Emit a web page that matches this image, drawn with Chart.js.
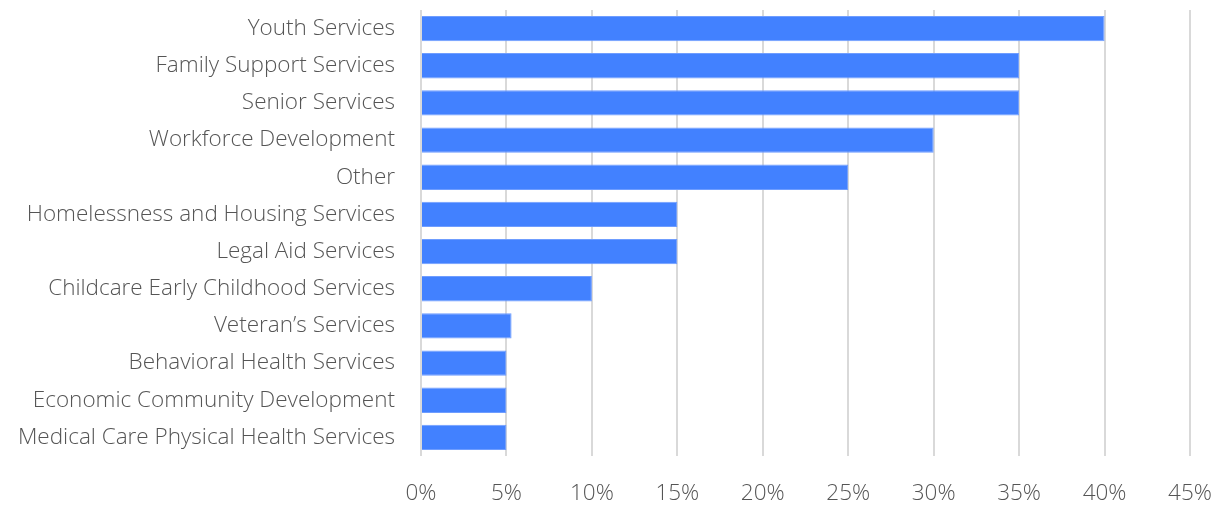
<!DOCTYPE html>
<html>
<head>
<meta charset="utf-8">
<script src="https://cdn.jsdelivr.net/npm/chart.js@4.4.1/dist/chart.umd.min.js"></script>
<style>
  html, body { margin: 0; padding: 0; background: #fff; }
  #wrap { width: 1220px; height: 506px; }
</style>
</head>
<body>
<div id="wrap"><canvas id="myChart" width="1220" height="506"></canvas></div>
<script>
const categories = [
    'Youth Services',
    'Family Support Services',
    'Senior Services',
    'Workforce Development',
    'Other',
    'Homelessness and Housing Services',
    'Legal Aid Services',
    'Childcare Early Childhood Services',
    'Veteran\u2019s Services',
    'Behavioral Health Services',
    'Economic Community Development',
    'Medical Care Physical Health Services'
];
const shares = [40, 35, 35, 30, 25, 15, 15, 10, 5.3, 5, 5, 5];
const tickStep = 5;
const tickMax = 45;

const labelFont = { family: "'Open Sans', 'Noto Sans', sans-serif", size: 22.5, weight: '300' };

// drop the automatic label padding so the plot box sits where the reference has it
function noPad(s) {
    s.paddingLeft = 0;
    s.paddingRight = 0;
    s.paddingTop = 0;
    s.paddingBottom = 0;
}

var config = {
    type: 'bar',
    data: {
        labels: categories,
        datasets: [{
            data: shares,
            backgroundColor: '#4281ff',
            borderColor: '#6f9dff',
            borderWidth: 1,
            barPercentage: 0.68,
            categoryPercentage: 1
        }]
    },
    options: {
        indexAxis: 'y',
        responsive: false,
        animation: { duration: 0 },
        layout: { padding: { top: 10, right: 30, left: 0, bottom: 0 } },
        plugins: {
            legend: { display: false },
            tooltip: { enabled: false }
        },
        scales: {
            x: {
                min: 0,
                max: tickMax,
                ticks: {
                    stepSize: tickStep,
                    color: '#555555',
                    font: labelFont,
                    padding: 24,
                    callback: v => v + '%'
                },
                grid: { color: '#d9d9d9', lineWidth: 2, drawTicks: false },
                border: { display: false },
                afterFit: s => { s.height = 50; noPad(s); }
            },
            y: {
                ticks: { color: '#555555', font: labelFont, padding: 18 },
                grid: { display: false },
                border: { display: false },
                afterFit: s => { s.width = 421; noPad(s); }
            }
        }
    }
};

var ctx = document.getElementById('myChart').getContext('2d');
window.myBar = new Chart(ctx, config);
</script>
</body>
</html>
